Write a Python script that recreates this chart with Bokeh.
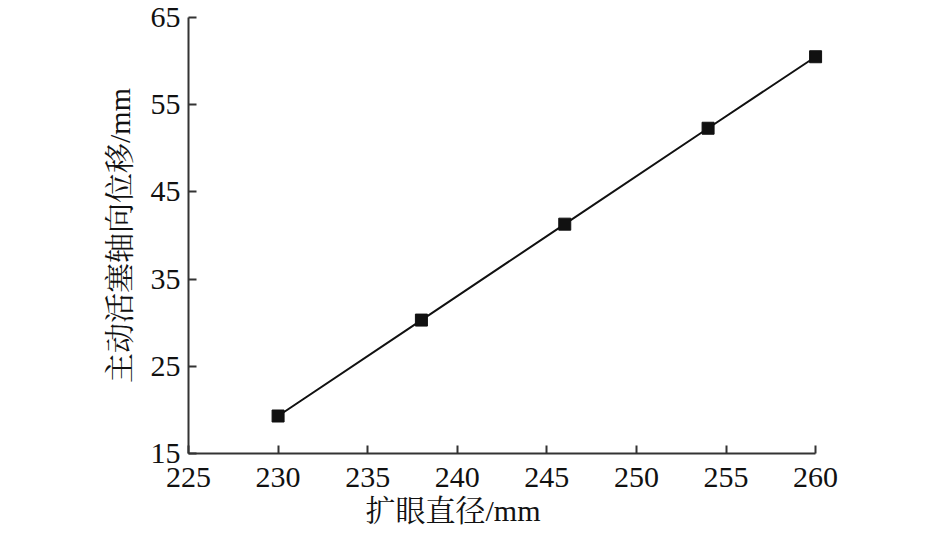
from bokeh.plotting import figure
from bokeh.models import Range1d, FixedTicker, Title
from bokeh.embed import file_html
from bokeh.resources import INLINE

# data
diameter = [230, 238, 246, 254, 260]
displacement = [19.3, 30.3, 41.3, 52.3, 60.5]
x_ticks = [225, 230, 235, 240, 245, 250, 255, 260]
y_ticks = [15, 25, 35, 45, 55, 65]
x_title = "扩眼直径/mm"
y_title = "主动活塞轴向位移/mm"

FONT = "'Liberation Serif', 'Noto Serif CJK SC', 'Noto Sans CJK SC', serif"

p = figure(width=945, height=534, output_backend="svg", toolbar_location=None,
           x_range=Range1d(225, 261), y_range=Range1d(15, 65),
           min_border_left=188, min_border_right=112, min_border_top=17, min_border_bottom=81)
p.outline_line_color = None
p.grid.grid_line_color = None
p.background_fill_color = "white"
p.border_fill_color = "white"

p.line(diameter, displacement, line_color="#111111", line_width=2)
p.scatter(diameter, displacement, marker="square", size=12, fill_color="#111111", line_color="#111111")

for ax, ticks in ((p.xaxis, x_ticks), (p.yaxis, y_ticks)):
    ax.ticker = FixedTicker(ticks=ticks)
    ax.minor_tick_line_color = None
    ax.major_tick_in = 8
    ax.major_tick_out = 0
    ax.axis_line_color = "#333333"
    ax.axis_line_width = 2
    ax.major_tick_line_color = "#333333"
    ax.major_tick_line_width = 2
    ax.major_label_text_font = FONT
    ax.major_label_text_font_size = "30px"
    ax.major_label_text_color = "#111111"
    ax.major_label_standoff = 8
p.xaxis.bounds = (225, 260)
p.xaxis.major_label_standoff = 14

p.yaxis.axis_label = y_title
p.yaxis.axis_label_text_font = FONT
p.yaxis.axis_label_text_font_size = "30px"
p.yaxis.axis_label_text_font_style = "normal"
p.yaxis.axis_label_text_color = "#111111"
p.yaxis.axis_label_standoff = 12

p.add_layout(Title(text=x_title, align="left", offset=177, standoff=4,
                   text_font=FONT, text_font_size="30px", text_font_style="normal",
                   text_color="#111111"), "below")

open("out.html", "w").write(file_html(p, INLINE))
